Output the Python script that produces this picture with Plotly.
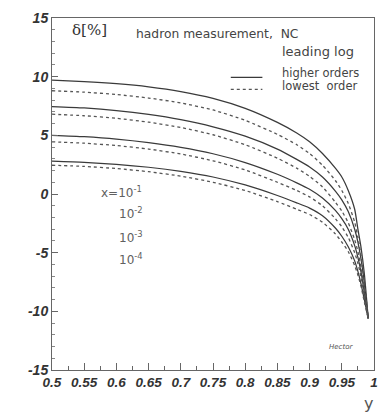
import plotly.graph_objects as go

# y (inelasticity) sampling points
y_vals = [0.5, 0.55, 0.6, 0.65, 0.7, 0.75, 0.8, 0.85, 0.88, 0.9, 0.92, 0.94,
          0.95, 0.96, 0.97, 0.975, 0.98, 0.985, 0.991]

# delta [%] : higher orders (solid) and lowest order (dotted), four x values
higher_1 = [9.7, 9.58, 9.4, 9.13, 8.73, 8.15, 7.3, 6.1, 5.2, 4.45, 3.45, 2.2, 1.45, 0.3, -1.3, -3.0, -4.6, -6.8, -10.6]
lowest_1 = [8.8, 8.68, 8.48, 8.18, 7.76, 7.16, 6.28, 5.08, 4.2, 3.45, 2.45, 1.15, 0.3, -0.8, -2.4, -3.7, -5.3, -7.4, -10.6]
higher_2 = [7.45, 7.33, 7.11, 6.78, 6.33, 5.73, 4.93, 3.83, 2.95, 2.3, 1.45, 0.25, -0.5, -1.5, -3.0, -4.1, -5.6, -7.6, -10.6]
lowest_2 = [6.8, 6.67, 6.45, 6.12, 5.67, 5.05, 4.2, 3.05, 2.2, 1.5, 0.6, -0.7, -1.45, -2.45, -3.9, -4.9, -6.3, -8.1, -10.6]
higher_3 = [5.0, 4.88, 4.68, 4.38, 3.98, 3.43, 2.68, 1.68, 0.95, 0.4, -0.35, -1.4, -2.1, -3.0, -4.4, -5.4, -6.7, -8.4, -10.6]
lowest_3 = [4.45, 4.33, 4.13, 3.83, 3.41, 2.83, 2.05, 1.0, 0.3, -0.25, -1.0, -2.1, -2.8, -3.7, -5.0, -5.9, -7.1, -8.7, -10.6]
higher_4 = [2.8, 2.7, 2.53, 2.28, 1.93, 1.45, 0.77, -0.13, -0.75, -1.2, -1.85, -2.9, -3.6, -4.5, -5.7, -6.6, -7.7, -9.0, -10.6]
lowest_4 = [2.45, 2.35, 2.17, 1.9, 1.52, 1.0, 0.3, -0.65, -1.3, -1.75, -2.4, -3.4, -4.1, -4.9, -6.1, -6.9, -7.9, -9.2, -10.6]

x_labels = ["x=10<sup>-1</sup>", "10<sup>-2</sup>", "10<sup>-3</sup>", "10<sup>-4</sup>"]
x_tick_vals = [0.5, 0.55, 0.6, 0.65, 0.7, 0.75, 0.8, 0.85, 0.9, 0.95, 1.0]
x_tick_text = ["0.5", "0.55", "0.6", "0.65", "0.7", "0.75", "0.8", "0.85", "0.9", "0.95", "1"]
y_tick_vals = [-15, -10, -5, 0, 5, 10, 15]
y_tick_text = ["-15", "-10", "-5", "0", "5", "10", "15"]

fig = go.Figure()
for s in [higher_1, higher_2, higher_3, higher_4]:
    fig.add_trace(go.Scatter(x=y_vals, y=s, mode="lines",
                             line=dict(color="#3a3a3a", width=1.25, shape="spline", smoothing=0.6),
                             showlegend=False, hoverinfo="skip"))
for s in [lowest_1, lowest_2, lowest_3, lowest_4]:
    fig.add_trace(go.Scatter(x=y_vals, y=s, mode="lines",
                             line=dict(color="#555555", width=1.3, dash="dot", shape="spline", smoothing=0.6),
                             showlegend=False, hoverinfo="skip"))

def tickfont(sz):
    return dict(family="Liberation Sans, Arial, sans-serif", size=sz, color="#333333",
                weight="bold", style="italic")

fig.update_xaxes(range=[0.5, 1.0], tickvals=x_tick_vals, ticktext=x_tick_text,
                 ticks="inside", ticklen=7, tickcolor="#666", tickwidth=1,
                 minor=dict(ticks="inside", dtick=0.025, tick0=0.5, ticklen=4, tickcolor="#666"),
                 showline=True, linecolor="#666", linewidth=1, mirror=True,
                 showgrid=False, zeroline=False, tickfont=tickfont(13.5))
fig.update_yaxes(range=[-15, 15], tickvals=y_tick_vals, ticktext=y_tick_text,
                 ticks="inside", ticklen=6, tickcolor="#666", tickwidth=1,
                 minor=dict(ticks="inside", dtick=1, tick0=0, ticklen=3, tickcolor="#888"),
                 showline=True, linecolor="#666", linewidth=1, mirror=True,
                 showgrid=False, zeroline=False, tickfont=tickfont(14))

sans = "DejaVu Sans, sans-serif"
ann = [
    dict(text="δ[%]", x=70, y=27, font=dict(family="DejaVu Serif, serif", size=15, color="#333")),
    dict(text="hadron measurement,  NC", x=135, y=31, font=dict(family=sans, size=12.3, color="#444")),
    dict(text="leading log", x=283, y=49, font=dict(family=sans, size=13, color="#444")),
    dict(text="higher orders", x=283, y=70, font=dict(family=sans, size=11.5, color="#444")),
    dict(text="lowest  order", x=283, y=83.5, font=dict(family=sans, size=11.5, color="#444")),
    dict(text="Hector", x=330, y=347, font=dict(family=sans, size=7, color="#555", style="italic")),
]
for a in ann:
    fig.add_annotation(text=a["text"], xref="paper", yref="paper",
                       x=(a["x"] - 52) / 326, y=1 - (a["y"] - 15) / 355,
                       xanchor="left", yanchor="middle", showarrow=False, font=a["font"])

label_pos = [(100, 190), (118, 212), (118, 236), (118, 258)]
for lab, (px, py) in zip(x_labels, label_pos):
    fig.add_annotation(text=lab, xref="paper", yref="paper",
                       x=(px - 52) / 326, y=1 - (py - 15) / 355,
                       xanchor="left", yanchor="middle", showarrow=False,
                       font=dict(family=sans, size=12, color="#606060"))

# axis title "y"
fig.add_annotation(text="y", xref="paper", yref="paper", x=(372 - 52) / 326, y=1 - (404 - 15) / 355,
                   xanchor="center", yanchor="middle", showarrow=False,
                   font=dict(family=sans, size=16, color="#555"))

# legend samples
fig.add_shape(type="line", xref="paper", yref="paper",
              x0=(233 - 52) / 326, x1=(265 - 52) / 326,
              y0=1 - (75 - 15) / 355, y1=1 - (75 - 15) / 355,
              line=dict(color="#3a3a3a", width=1.25))
fig.add_shape(type="line", xref="paper", yref="paper",
              x0=(233 - 52) / 326, x1=(265 - 52) / 326,
              y0=1 - (87 - 15) / 355, y1=1 - (87 - 15) / 355,
              line=dict(color="#555", width=1.3, dash="dot"))

fig.update_layout(width=388, height=415, margin=dict(l=52, r=10, t=15, b=45),
                  plot_bgcolor="white", paper_bgcolor="white", showlegend=False)

fig.write_html("out.html")
